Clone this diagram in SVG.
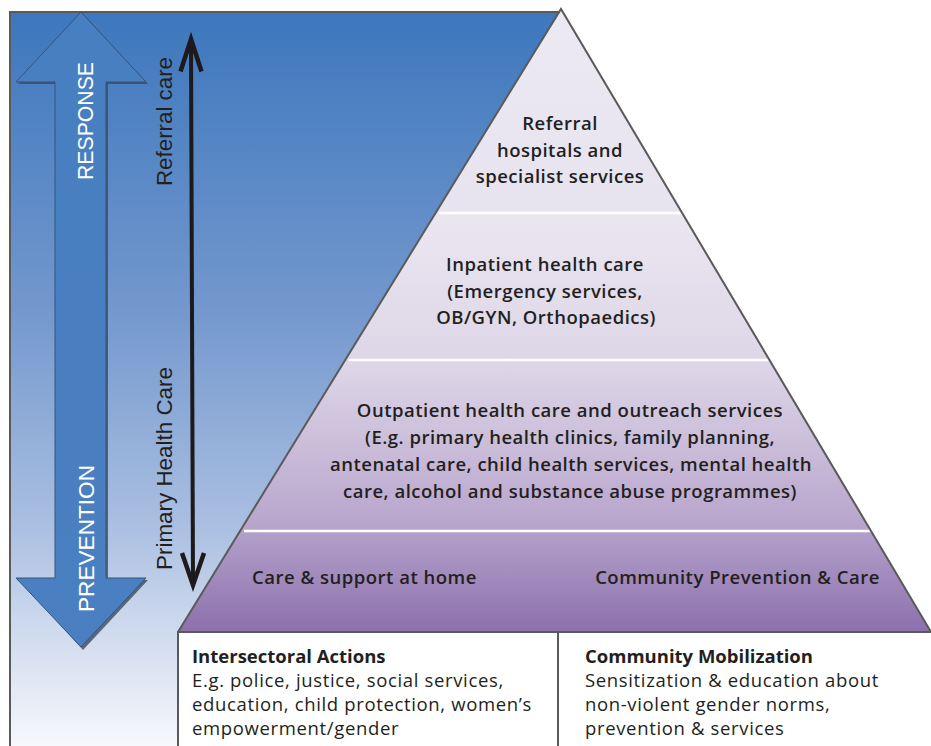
<svg xmlns="http://www.w3.org/2000/svg" width="931" height="746" viewBox="0 0 931 746">
<defs>
<linearGradient id="bg" x1="0" y1="12" x2="0" y2="746" gradientUnits="userSpaceOnUse">
<stop offset="0" stop-color="#3d77bd"/>
<stop offset="0.4" stop-color="#7297cd"/>
<stop offset="0.7" stop-color="#aabfe1"/>
<stop offset="1" stop-color="#f7f8fc"/>
</linearGradient>
<linearGradient id="arw" x1="0" y1="12" x2="0" y2="650" gradientUnits="userSpaceOnUse">
<stop offset="0" stop-color="#487fc1"/>
<stop offset="1" stop-color="#4a80c2"/>
</linearGradient>
<linearGradient id="l1" x1="0" y1="9" x2="0" y2="213" gradientUnits="userSpaceOnUse">
<stop offset="0" stop-color="#ece9f3"/>
<stop offset="1" stop-color="#e8e4ef"/>
</linearGradient>
<linearGradient id="l2" x1="0" y1="213" x2="0" y2="360" gradientUnits="userSpaceOnUse">
<stop offset="0" stop-color="#ebe7f1"/>
<stop offset="1" stop-color="#ddd6e7"/>
</linearGradient>
<linearGradient id="l3" x1="0" y1="360" x2="0" y2="531" gradientUnits="userSpaceOnUse">
<stop offset="0" stop-color="#ded7e8"/>
<stop offset="1" stop-color="#b7a3cb"/>
</linearGradient>
<linearGradient id="l4" x1="0" y1="531" x2="0" y2="632" gradientUnits="userSpaceOnUse">
<stop offset="0" stop-color="#b3a0ca"/>
<stop offset="1" stop-color="#8c70ac"/>
</linearGradient>
</defs>
<style>
.ptxt{font-family:"Open Sans","Liberation Sans",sans-serif;font-weight:600;font-size:18.5px;letter-spacing:0.5px;fill:#231f20;text-anchor:middle}
.btxt{font-family:"Open Sans","Liberation Sans",sans-serif;font-size:18.5px;letter-spacing:0.65px;fill:#231f20}
.bhd{font-weight:700;letter-spacing:0px}
.side{font-family:"Liberation Sans",sans-serif;font-size:22.5px;text-anchor:middle}
.wht{fill:#ffffff}
.drk{fill:#231f20}
.edge{fill:none;stroke:#5a5a5a;stroke-width:2}
.div{stroke:#ffffff;stroke-width:2.5}
.blk{fill:none;stroke:#1e1a1b;stroke-width:4.5;stroke-linejoin:miter;stroke-linecap:butt}
</style>

<g id="background">
<rect x="10" y="12" width="560" height="734" fill="url(#bg)"/>
<polygon points="561,9 931,632 931,0" fill="#ffffff"/>
<line x1="10" y1="12" x2="10" y2="746" class="edge"/>
<line x1="9" y1="12" x2="559" y2="12" class="edge"/>
</g>

<g id="response-prevention-arrow">
<polygon points="83,14 148,84 108,84 108,580 148,580 83,650 20,580 57,580 57,84 18,84" fill="#3f4a59" opacity="0.8"/>
<polygon points="81,12 146,82 106,82 106,578 146,578 81,647 16,578 55,578 55,82 16,82" fill="url(#arw)" stroke="#34557f" stroke-width="1"/>
<text class="side wht" transform="translate(93,121) rotate(-90)" textLength="118" lengthAdjust="spacingAndGlyphs">RESPONSE</text>
<text class="side wht" transform="translate(94,538.5) rotate(-90)" textLength="147" lengthAdjust="spacingAndGlyphs">PREVENTION</text>
</g>

<g id="care-axis">
<text class="side drk" transform="translate(172,121.5) rotate(-90)" textLength="129" lengthAdjust="spacingAndGlyphs">Referral care</text>
<text class="side drk" transform="translate(172,468.5) rotate(-90)" textLength="203" lengthAdjust="spacingAndGlyphs">Primary Health Care</text>
</g>

<g id="connectors">
<line x1="191" y1="41" x2="193" y2="584" stroke="#1e1a1b" stroke-width="4"/>
<polyline points="180.5,71.5 191,39 201.5,71.5" class="blk"/>
<polyline points="182,553 193,585 204,553" class="blk"/>
</g>

<g id="layer-referral">
<polygon points="561,9 682.2,213 435.6,213" fill="url(#l1)"/>
<text class="ptxt" x="560" y="130">Referral</text>
<text class="ptxt" x="560" y="157">hospitals and</text>
<text class="ptxt" x="560" y="183">specialist services</text>
</g>

<g id="layer-inpatient">
<polygon points="435.6,213 682.2,213 769.5,360 345.2,360" fill="url(#l2)"/>
<text class="ptxt" x="545" y="271">Inpatient health care</text>
<text class="ptxt" x="545" y="298">(Emergency services,</text>
<text class="ptxt" x="546" y="324">OB/GYN, Orthopaedics)</text>
</g>

<g id="layer-outpatient">
<polygon points="345.2,360 769.5,360 871,531 240.1,531" fill="url(#l3)"/>
<text class="ptxt" x="570" y="417">Outpatient health care and outreach services</text>
<text class="ptxt" x="570" y="444">(E.g. primary health clinics, family planning,</text>
<text class="ptxt" x="571" y="471">antenatal care, child health services, mental health</text>
<text class="ptxt" x="570" y="498">care, alcohol and substance abuse programmes)</text>
</g>

<g id="layer-community">
<polygon points="240.1,531 871,531 931,632 178,632" fill="url(#l4)"/>
<text class="ptxt" x="364.5" y="584">Care &amp; support at home</text>
<text class="ptxt" x="737.5" y="584">Community Prevention &amp; Care</text>
</g>

<g id="pyramid-lines">
<line x1="439" y1="213" x2="682" y2="213" class="div"/>
<line x1="348.5" y1="360" x2="769" y2="360" class="div"/>
<line x1="244" y1="531" x2="870.5" y2="531" class="div"/>
<polyline points="178,632 561,9 931,632" class="edge"/>
</g>

<g id="box-intersectoral">
<rect x="178" y="632" width="380" height="120" fill="#ffffff" stroke="#5a5a5a" stroke-width="2"/>
<text class="btxt bhd" x="192" y="663">Intersectoral Actions</text>
<text class="btxt" x="192" y="687">E.g. police, justice, social services,</text>
<text class="btxt" x="192" y="711">education, child protection, women’s</text>
<text class="btxt" x="192" y="735">empowerment/gender</text>
</g>

<g id="box-community">
<rect x="558" y="632" width="380" height="120" fill="#ffffff" stroke="#5a5a5a" stroke-width="2"/>
<text class="btxt bhd" x="585" y="663">Community Mobilization</text>
<text class="btxt" x="585" y="687">Sensitization &amp; education about</text>
<text class="btxt" x="585" y="711">non-violent gender norms,</text>
<text class="btxt" x="585" y="735">prevention &amp; services</text>
</g>
</svg>
